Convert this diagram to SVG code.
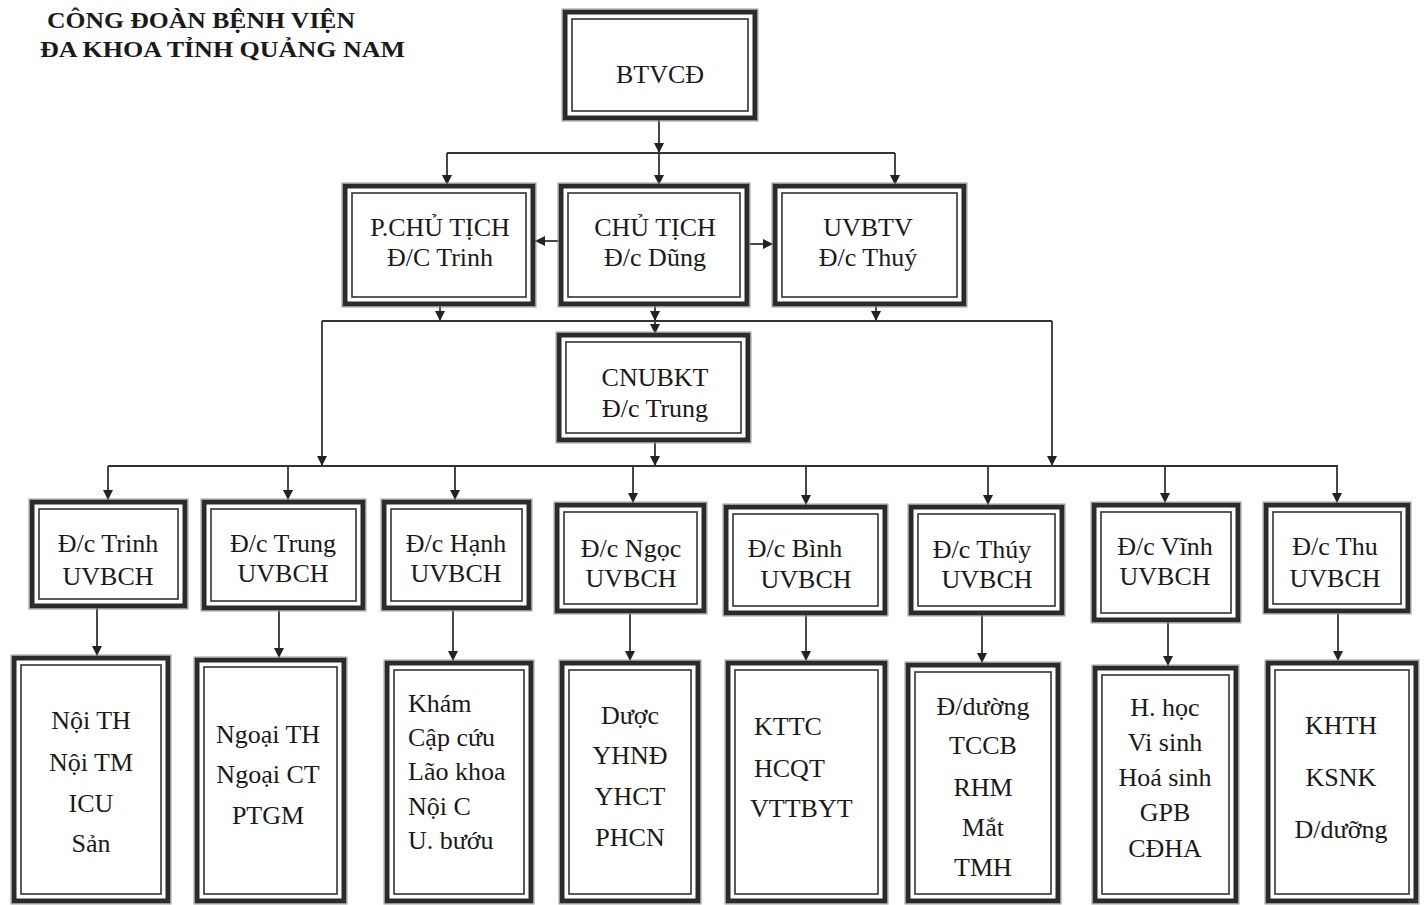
<svg xmlns="http://www.w3.org/2000/svg" width="1424" height="905" viewBox="0 0 1424 905">
<defs>
<marker id="ah" markerUnits="userSpaceOnUse" markerWidth="10" markerHeight="10" viewBox="0 0 10 10" refX="10" refY="5" orient="auto">
<path d="M0,0 L10,5 L0,10 z" fill="#222"/>
</marker>
<style>
.o{fill:#fff;stroke:#2b2b2b;stroke-width:5}
.f{fill:none;stroke:#999;stroke-width:1}
.i{fill:none;stroke:#333;stroke-width:1.6}
.t{font-family:"Liberation Serif","Times New Roman",serif;font-size:26px;fill:#1a1a1a;text-anchor:middle}
.l{text-anchor:start}
.h{font-family:"Liberation Serif","Times New Roman",serif;font-size:24px;font-weight:bold;fill:#1a1a1a}
.c{fill:none;stroke:#333;stroke-width:1.8}
.a{marker-end:url(#ah)}
</style>
</defs>
<rect width="1424" height="905" fill="#fff"/>
<g id="title">
<text class="h" x="47" y="28" textLength="308" lengthAdjust="spacingAndGlyphs">CÔNG ĐOÀN BỆNH VIỆN</text>
<text class="h" x="40" y="57" textLength="365" lengthAdjust="spacingAndGlyphs">ĐA KHOA TỈNH QUẢNG NAM</text>
</g>
<g id="connectors">
<path class="c a" d="M659,120 V153"/>
<path class="c a" d="M659,153 V185"/>
<path class="c" d="M447,153 H895"/>
<path class="c a" d="M447,153 V185"/>
<path class="c a" d="M895,153 V185"/>
<path class="c a" d="M559,241 H535"/>
<path class="c a" d="M749,244 H773"/>
<path class="c a" d="M440,306 V321"/>
<path class="c a" d="M655,306 V321"/>
<path class="c a" d="M876,306 V321"/>
<path class="c" d="M322,321 H1052"/>
<path class="c a" d="M655,321 V334"/>
<path class="c a" d="M322,321 V466"/>
<path class="c a" d="M1052,321 V466"/>
<path class="c a" d="M655,442 V466"/>
<path class="c" d="M108,466 H1338"/>
<path class="c a" d="M108,466 V500"/>
<path class="c a" d="M288,466 V500"/>
<path class="c a" d="M455,466 V500"/>
<path class="c a" d="M633,466 V503"/>
<path class="c a" d="M806,466 V505"/>
<path class="c a" d="M988,466 V505"/>
<path class="c a" d="M1165,466 V503"/>
<path class="c a" d="M1337,466 V503"/>
<path class="c a" d="M97,608 V656"/>
<path class="c a" d="M279,610 V658"/>
<path class="c a" d="M453,610 V661"/>
<path class="c a" d="M630,613 V661"/>
<path class="c a" d="M806,615 V661"/>
<path class="c a" d="M982,615 V663"/>
<path class="c a" d="M1168,622 V666"/>
<path class="c a" d="M1338,613 V661"/>
</g>
<g id="n-btvcd">
<rect class="o" x="565" y="12" width="190" height="106"/><rect class="f" x="562" y="9" width="196" height="112"/><rect class="i" x="572" y="19" width="176" height="92"/>
<text class="t" x="660" y="83">BTVCĐ</text>
</g>
<g id="n-pct">
<rect class="o" x="345" y="186" width="188" height="118"/><rect class="f" x="342" y="183" width="194" height="124"/><rect class="i" x="352" y="193" width="174" height="104"/>
<text class="t" x="440" y="236">P.CHỦ TỊCH</text><text class="t" x="440" y="266">Đ/C Trinh</text>
</g>
<g id="n-ct">
<rect class="o" x="561" y="186" width="186" height="118"/><rect class="f" x="558" y="183" width="192" height="124"/><rect class="i" x="568" y="193" width="172" height="104"/>
<text class="t" x="655" y="236">CHỦ TỊCH</text><text class="t" x="655" y="266">Đ/c Dũng</text>
</g>
<g id="n-uvbtv">
<rect class="o" x="775" y="186" width="189" height="118"/><rect class="f" x="772" y="183" width="195" height="124"/><rect class="i" x="782" y="193" width="175" height="104"/>
<text class="t" x="868" y="236">UVBTV</text><text class="t" x="868" y="266">Đ/c Thuý</text>
</g>
<g id="n-cnubkt">
<rect class="o" x="559" y="335" width="189" height="105"/><rect class="f" x="556" y="332" width="195" height="111"/><rect class="i" x="566" y="342" width="175" height="91"/>
<text class="t" x="655" y="386">CNUBKT</text><text class="t" x="655" y="417">Đ/c Trung</text>
</g>
<g id="n-trinh">
<rect class="o" x="32" y="502" width="153" height="104"/><rect class="f" x="29" y="499" width="159" height="110"/><rect class="i" x="39" y="509" width="139" height="90"/>
<text class="t" x="108" y="552">Đ/c Trinh</text><text class="t" x="108" y="585">UVBCH</text>
</g>
<g id="n-trung">
<rect class="o" x="204" y="502" width="159" height="106"/><rect class="f" x="201" y="499" width="165" height="112"/><rect class="i" x="211" y="509" width="145" height="92"/>
<text class="t" x="283" y="552">Đ/c Trung</text><text class="t" x="283" y="582">UVBCH</text>
</g>
<g id="n-hanh">
<rect class="o" x="384" y="502" width="145" height="106"/><rect class="f" x="381" y="499" width="151" height="112"/><rect class="i" x="391" y="509" width="131" height="92"/>
<text class="t" x="456" y="552">Đ/c Hạnh</text><text class="t" x="456" y="582">UVBCH</text>
</g>
<g id="n-ngoc">
<rect class="o" x="557" y="505" width="147" height="106"/><rect class="f" x="554" y="502" width="153" height="112"/><rect class="i" x="564" y="512" width="133" height="92"/>
<text class="t" x="631" y="557">Đ/c Ngọc</text><text class="t" x="631" y="587">UVBCH</text>
</g>
<g id="n-binh">
<rect class="o" x="726" y="507" width="159" height="106"/><rect class="f" x="723" y="504" width="165" height="112"/><rect class="i" x="733" y="514" width="145" height="92"/>
<text class="t" x="795" y="557">Đ/c Bình</text><text class="t" x="806" y="588">UVBCH</text>
</g>
<g id="n-thuy">
<rect class="o" x="911" y="507" width="151" height="106"/><rect class="f" x="908" y="504" width="157" height="112"/><rect class="i" x="918" y="514" width="137" height="92"/>
<text class="t" x="982" y="558">Đ/c Thúy</text><text class="t" x="987" y="588">UVBCH</text>
</g>
<g id="n-vinh">
<rect class="o" x="1094" y="505" width="144" height="115"/><rect class="f" x="1091" y="502" width="150" height="121"/><rect class="i" x="1101" y="512" width="130" height="101"/>
<text class="t" x="1165" y="555">Đ/c Vĩnh</text><text class="t" x="1165" y="585">UVBCH</text>
</g>
<g id="n-thu">
<rect class="o" x="1266" y="505" width="142" height="106"/><rect class="f" x="1263" y="502" width="148" height="112"/><rect class="i" x="1273" y="512" width="128" height="92"/>
<text class="t" x="1335" y="555">Đ/c Thu</text><text class="t" x="1335" y="587">UVBCH</text>
</g>
<g id="n-d1">
<rect class="o" x="14" y="658" width="154" height="243"/><rect class="f" x="11" y="655" width="160" height="249"/><rect class="i" x="21" y="665" width="140" height="229"/>
<text class="t" x="91" y="729">Nội TH</text><text class="t" x="91" y="771">Nội TM</text><text class="t" x="91" y="812">ICU</text><text class="t" x="91" y="852">Sản</text>
</g>
<g id="n-d2">
<rect class="o" x="197" y="660" width="147" height="241"/><rect class="f" x="194" y="657" width="153" height="247"/><rect class="i" x="204" y="667" width="133" height="227"/>
<text class="t" x="268" y="743">Ngoại TH</text><text class="t" x="268" y="783">Ngoại CT</text><text class="t" x="268" y="824">PTGM</text>
</g>
<g id="n-d3">
<rect class="o" x="387" y="663" width="144" height="238"/><rect class="f" x="384" y="660" width="150" height="244"/><rect class="i" x="394" y="670" width="130" height="224"/>
<text class="t l" x="408" y="712">Khám</text><text class="t l" x="408" y="746">Cập cứu</text><text class="t l" x="408" y="780">Lão khoa</text><text class="t l" x="408" y="815">Nội C</text><text class="t l" x="408" y="849">U. bướu</text>
</g>
<g id="n-d4">
<rect class="o" x="562" y="663" width="136" height="238"/><rect class="f" x="559" y="660" width="142" height="244"/><rect class="i" x="569" y="670" width="122" height="224"/>
<text class="t" x="630" y="724">Dược</text><text class="t" x="630" y="764">YHNĐ</text><text class="t" x="630" y="805">YHCT</text><text class="t" x="630" y="846">PHCN</text>
</g>
<g id="n-d5">
<rect class="o" x="728" y="663" width="157" height="238"/><rect class="f" x="725" y="660" width="163" height="244"/><rect class="i" x="735" y="670" width="143" height="224"/>
<text class="t l" x="754" y="735">KTTC</text><text class="t l" x="754" y="777">HCQT</text><text class="t l" x="750" y="817">VTTBYT</text>
</g>
<g id="n-d6">
<rect class="o" x="908" y="665" width="150" height="236"/><rect class="f" x="905" y="662" width="156" height="242"/><rect class="i" x="915" y="672" width="136" height="222"/>
<text class="t" x="983" y="715">Đ/dường</text><text class="t" x="983" y="754">TCCB</text><text class="t" x="983" y="796">RHM</text><text class="t" x="983" y="836">Mắt</text><text class="t" x="983" y="876">TMH</text>
</g>
<g id="n-d7">
<rect class="o" x="1095" y="668" width="141" height="233"/><rect class="f" x="1092" y="665" width="147" height="239"/><rect class="i" x="1102" y="675" width="127" height="219"/>
<text class="t" x="1165" y="716">H. học</text><text class="t" x="1165" y="751">Vi sinh</text><text class="t" x="1165" y="786">Hoá sinh</text><text class="t" x="1165" y="821">GPB</text><text class="t" x="1165" y="857">CĐHA</text>
</g>
<g id="n-d8">
<rect class="o" x="1268" y="663" width="148" height="238"/><rect class="f" x="1265" y="660" width="154" height="244"/><rect class="i" x="1275" y="670" width="134" height="224"/>
<text class="t" x="1341" y="734">KHTH</text><text class="t" x="1341" y="786">KSNK</text><text class="t" x="1341" y="838">D/dưỡng</text>
</g>
</svg>
